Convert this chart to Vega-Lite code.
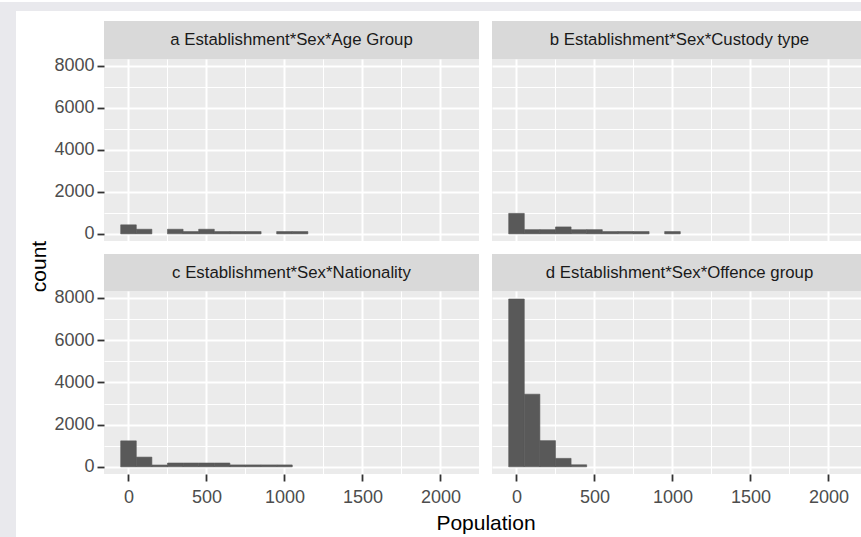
{
  "$schema": "https://vega.github.io/schema/vega-lite/v6.json",
  "background": "white",
  "padding": 0,
  "config": {
    "view": {"stroke": null},
    "font": "Liberation Sans",
    "rect": {"fill": "#595959", "stroke": "#595959", "strokeWidth": 0.6},
    "axis": {
      "labelFont": "Liberation Sans",
      "labelFontSize": 18,
      "labelColor": "#4d4d4d",
      "tickColor": "#333333",
      "tickSize": 7,
      "tickWidth": 1.8,
      "gridColor": "#ffffff",
      "gridOpacity": 1,
      "domain": false,
      "titleFont": "Liberation Sans",
      "titleFontSize": 21,
      "titleFontWeight": "normal",
      "titleColor": "#000000",
      "labelFlush": false,
      "labelOverlap": false
    }
  },
  "datasets": {
    "hist": [
      {"panel": "a", "bin_start": -50, "bin_end": 50, "count": 430},
      {"panel": "a", "bin_start": 50, "bin_end": 150, "count": 220},
      {"panel": "a", "bin_start": 250, "bin_end": 350, "count": 220},
      {"panel": "a", "bin_start": 350, "bin_end": 450, "count": 110},
      {"panel": "a", "bin_start": 450, "bin_end": 550, "count": 220},
      {"panel": "a", "bin_start": 550, "bin_end": 650, "count": 110},
      {"panel": "a", "bin_start": 650, "bin_end": 750, "count": 110},
      {"panel": "a", "bin_start": 750, "bin_end": 850, "count": 110},
      {"panel": "a", "bin_start": 950, "bin_end": 1050, "count": 110},
      {"panel": "a", "bin_start": 1050, "bin_end": 1150, "count": 110},
      {"panel": "b", "bin_start": -50, "bin_end": 50, "count": 975},
      {"panel": "b", "bin_start": 50, "bin_end": 150, "count": 200},
      {"panel": "b", "bin_start": 150, "bin_end": 250, "count": 200},
      {"panel": "b", "bin_start": 250, "bin_end": 350, "count": 330},
      {"panel": "b", "bin_start": 350, "bin_end": 450, "count": 200},
      {"panel": "b", "bin_start": 450, "bin_end": 550, "count": 200},
      {"panel": "b", "bin_start": 550, "bin_end": 650, "count": 110},
      {"panel": "b", "bin_start": 650, "bin_end": 750, "count": 110},
      {"panel": "b", "bin_start": 750, "bin_end": 850, "count": 110},
      {"panel": "b", "bin_start": 950, "bin_end": 1050, "count": 110},
      {"panel": "c", "bin_start": -50, "bin_end": 50, "count": 1230},
      {"panel": "c", "bin_start": 50, "bin_end": 150, "count": 460},
      {"panel": "c", "bin_start": 150, "bin_end": 250, "count": 85},
      {"panel": "c", "bin_start": 250, "bin_end": 350, "count": 180},
      {"panel": "c", "bin_start": 350, "bin_end": 450, "count": 180},
      {"panel": "c", "bin_start": 450, "bin_end": 550, "count": 180},
      {"panel": "c", "bin_start": 550, "bin_end": 650, "count": 180},
      {"panel": "c", "bin_start": 650, "bin_end": 750, "count": 90},
      {"panel": "c", "bin_start": 750, "bin_end": 850, "count": 90},
      {"panel": "c", "bin_start": 850, "bin_end": 950, "count": 90},
      {"panel": "c", "bin_start": 950, "bin_end": 1050, "count": 90},
      {"panel": "d", "bin_start": -50, "bin_end": 50, "count": 7950},
      {"panel": "d", "bin_start": 50, "bin_end": 150, "count": 3440},
      {"panel": "d", "bin_start": 150, "bin_end": 250, "count": 1240},
      {"panel": "d", "bin_start": 250, "bin_end": 350, "count": 400},
      {"panel": "d", "bin_start": 350, "bin_end": 450, "count": 95}
    ]
  },
  "columns": 5,
  "spacing": 0,
  "bounds": "flush",
  "align": "each",
  "concat": [
    {"width": 16, "height": 9, "data": {"values": [{}]}, "mark": "text", "encoding": {"text": {"value": ""}}, "view": {"fill": "#e9e9ed"}},
    {"width": 88, "height": 9, "data": {"values": [{}]}, "mark": "text", "encoding": {"text": {"value": ""}}, "view": {"fill": "#e9e9ed"}},
    {"width": 375, "height": 9, "data": {"values": [{}]}, "mark": "text", "encoding": {"text": {"value": ""}}, "view": {"fill": "#e9e9ed"}},
    {"width": 13, "height": 9, "data": {"values": [{}]}, "mark": "text", "encoding": {"text": {"value": ""}}, "view": {"fill": "#e9e9ed"}},
    {"width": 369, "height": 9, "data": {"values": [{}]}, "mark": "text", "encoding": {"text": {"value": ""}}, "view": {"fill": "#e9e9ed"}},

    {"width": 16, "height": 10, "data": {"values": [{}]}, "mark": "text", "encoding": {"text": {"value": ""}}, "view": {"fill": "#e9e9ed"}},
    {"width": 88, "height": 10, "data": {"values": [{}]}, "mark": "text", "encoding": {"text": {"value": ""}}},
    {"width": 375, "height": 10, "data": {"values": [{}]}, "mark": "text", "encoding": {"text": {"value": ""}}},
    {"width": 13, "height": 10, "data": {"values": [{}]}, "mark": "text", "encoding": {"text": {"value": ""}}},
    {"width": 369, "height": 10, "data": {"values": [{}]}, "mark": "text", "encoding": {"text": {"value": ""}}},

    {"width": 16, "height": 38, "data": {"values": [{}]}, "mark": "text", "encoding": {"text": {"value": ""}}, "view": {"fill": "#e9e9ed"}},
    {"width": 88, "height": 38, "data": {"values": [{}]}, "mark": "text", "encoding": {"text": {"value": ""}}},
    {"width": 375, "height": 38, "data": {"values": [{"label": "a Establishment*Sex*Age Group"}]}, "mark": {"type": "text", "font": "Liberation Sans", "fontSize": 16.8, "fill": "#1a1a1a", "baseline": "middle"}, "encoding": {"text": {"field": "label"}}, "view": {"fill": "#d9d9d9"}},
    {"width": 13, "height": 38, "data": {"values": [{}]}, "mark": "text", "encoding": {"text": {"value": ""}}},
    {"width": 369, "height": 38, "data": {"values": [{"label": "b Establishment*Sex*Custody type"}]}, "mark": {"type": "text", "font": "Liberation Sans", "fontSize": 16.8, "fill": "#1a1a1a", "baseline": "middle", "dx": 3}, "encoding": {"text": {"field": "label"}}, "view": {"fill": "#d9d9d9"}},

    {"width": 16, "height": 182, "data": {"values": [{}]}, "mark": "text", "encoding": {"text": {"value": ""}}, "view": {"fill": "#e9e9ed"}},
    {"width": 88, "height": 182, "data": {"values": [{}]}, "mark": "text", "encoding": {"text": {"value": ""}}},
    {
      "width": 375, "height": 182,
      "data": {"name": "hist"},
      "transform": [{"filter": "datum.panel === 'a'"}],
      "mark": {"type": "rect"},
      "encoding": {
        "x": {"field": "bin_start", "type": "quantitative", "scale": {"domain": [-157, 2247], "nice": false, "zero": false},
          "axis": {"values": [0, 250, 500, 750, 1000, 1250, 1500, 1750, 2000], "labels": false, "ticks": false, "title": null,
            "gridWidth": {"condition": {"test": "datum.value % 500 === 0", "value": 2}, "value": 1}}},
        "x2": {"field": "bin_end"},
        "y": {"field": "count", "type": "quantitative", "scale": {"domain": [-340, 8330], "nice": false, "zero": false},
          "axis": {"values": [0, 1000, 2000, 3000, 4000, 5000, 6000, 7000, 8000], "format": "d", "labelPadding": 3,
            "labelExpr": "datum.value % 2000 === 0 ? datum.label : ''",
            "tickOpacity": {"condition": {"test": "datum.value % 2000 === 0", "value": 1}, "value": 0},
            "gridWidth": {"condition": {"test": "datum.value % 2000 === 0", "value": 2}, "value": 1},
            "title": "count", "titleX": -65, "titleY": 207, "titleAngle": 270, "titleAlign": "center", "titleBaseline": "middle"}},
        "y2": {"datum": 0}
      },
      "view": {"fill": "#ebebeb"}
    },
    {"width": 13, "height": 182, "data": {"values": [{}]}, "mark": "text", "encoding": {"text": {"value": ""}}},
    {
      "width": 369, "height": 182,
      "data": {"name": "hist"},
      "transform": [{"filter": "datum.panel === 'b'"}],
      "mark": {"type": "rect"},
      "encoding": {
        "x": {"field": "bin_start", "type": "quantitative", "scale": {"domain": [-157, 2208.5], "nice": false, "zero": false},
          "axis": {"values": [0, 250, 500, 750, 1000, 1250, 1500, 1750, 2000], "labels": false, "ticks": false, "title": null,
            "gridWidth": {"condition": {"test": "datum.value % 500 === 0", "value": 2}, "value": 1}}},
        "x2": {"field": "bin_end"},
        "y": {"field": "count", "type": "quantitative", "scale": {"domain": [-340, 8330], "nice": false, "zero": false},
          "axis": {"values": [0, 1000, 2000, 3000, 4000, 5000, 6000, 7000, 8000], "labels": false, "ticks": false, "title": null,
            "gridWidth": {"condition": {"test": "datum.value % 2000 === 0", "value": 2}, "value": 1}}},
        "y2": {"datum": 0}
      },
      "view": {"fill": "#ebebeb"}
    },

    {"width": 16, "height": 13, "data": {"values": [{}]}, "mark": "text", "encoding": {"text": {"value": ""}}, "view": {"fill": "#e9e9ed"}},
    {"width": 88, "height": 13, "data": {"values": [{}]}, "mark": "text", "encoding": {"text": {"value": ""}}},
    {"width": 375, "height": 13, "data": {"values": [{}]}, "mark": "text", "encoding": {"text": {"value": ""}}},
    {"width": 13, "height": 13, "data": {"values": [{}]}, "mark": "text", "encoding": {"text": {"value": ""}}},
    {"width": 369, "height": 13, "data": {"values": [{}]}, "mark": "text", "encoding": {"text": {"value": ""}}},

    {"width": 16, "height": 37, "data": {"values": [{}]}, "mark": "text", "encoding": {"text": {"value": ""}}, "view": {"fill": "#e9e9ed"}},
    {"width": 88, "height": 37, "data": {"values": [{}]}, "mark": "text", "encoding": {"text": {"value": ""}}},
    {"width": 375, "height": 37, "data": {"values": [{"label": "c Establishment*Sex*Nationality"}]}, "mark": {"type": "text", "font": "Liberation Sans", "fontSize": 16.8, "fill": "#1a1a1a", "baseline": "middle"}, "encoding": {"text": {"field": "label"}}, "view": {"fill": "#d9d9d9"}},
    {"width": 13, "height": 37, "data": {"values": [{}]}, "mark": "text", "encoding": {"text": {"value": ""}}},
    {"width": 369, "height": 37, "data": {"values": [{"label": "d Establishment*Sex*Offence group"}]}, "mark": {"type": "text", "font": "Liberation Sans", "fontSize": 16.8, "fill": "#1a1a1a", "baseline": "middle", "dx": 3}, "encoding": {"text": {"field": "label"}}, "view": {"fill": "#d9d9d9"}},

    {"width": 16, "height": 183, "data": {"values": [{}]}, "mark": "text", "encoding": {"text": {"value": ""}}, "view": {"fill": "#e9e9ed"}},
    {"width": 88, "height": 183, "data": {"values": [{}]}, "mark": "text", "encoding": {"text": {"value": ""}}},
    {
      "width": 375, "height": 183,
      "data": {"name": "hist"},
      "transform": [{"filter": "datum.panel === 'c'"}],
      "mark": {"type": "rect"},
      "encoding": {
        "x": {"field": "bin_start", "type": "quantitative", "scale": {"domain": [-157, 2247], "nice": false, "zero": false},
          "axis": {"values": [0, 250, 500, 750, 1000, 1250, 1500, 1750, 2000], "format": "d", "labelPadding": 7,
            "labelExpr": "datum.value % 500 === 0 ? datum.label : ''",
            "tickOpacity": {"condition": {"test": "datum.value % 500 === 0", "value": 1}, "value": 0},
            "gridWidth": {"condition": {"test": "datum.value % 500 === 0", "value": 2}, "value": 1},
            "title": "Population", "titleX": 381.5, "titleY": 49, "titleAlign": "center", "titleBaseline": "middle"}},
        "x2": {"field": "bin_end"},
        "y": {"field": "count", "type": "quantitative", "scale": {"domain": [-340, 8330], "nice": false, "zero": false},
          "axis": {"values": [0, 1000, 2000, 3000, 4000, 5000, 6000, 7000, 8000], "format": "d", "labelPadding": 3,
            "labelExpr": "datum.value % 2000 === 0 ? datum.label : ''",
            "tickOpacity": {"condition": {"test": "datum.value % 2000 === 0", "value": 1}, "value": 0},
            "gridWidth": {"condition": {"test": "datum.value % 2000 === 0", "value": 2}, "value": 1},
            "title": null}},
        "y2": {"datum": 0}
      },
      "view": {"fill": "#ebebeb"}
    },
    {"width": 13, "height": 183, "data": {"values": [{}]}, "mark": "text", "encoding": {"text": {"value": ""}}},
    {
      "width": 369, "height": 183,
      "data": {"name": "hist"},
      "transform": [{"filter": "datum.panel === 'd'"}],
      "mark": {"type": "rect"},
      "encoding": {
        "x": {"field": "bin_start", "type": "quantitative", "scale": {"domain": [-157, 2208.5], "nice": false, "zero": false},
          "axis": {"values": [0, 250, 500, 750, 1000, 1250, 1500, 1750, 2000], "format": "d", "labelPadding": 7,
            "labelExpr": "datum.value % 500 === 0 ? datum.label : ''",
            "tickOpacity": {"condition": {"test": "datum.value % 500 === 0", "value": 1}, "value": 0},
            "gridWidth": {"condition": {"test": "datum.value % 500 === 0", "value": 2}, "value": 1},
            "title": null}},
        "x2": {"field": "bin_end"},
        "y": {"field": "count", "type": "quantitative", "scale": {"domain": [-340, 8330], "nice": false, "zero": false},
          "axis": {"values": [0, 1000, 2000, 3000, 4000, 5000, 6000, 7000, 8000], "labels": false, "ticks": false, "title": null,
            "gridWidth": {"condition": {"test": "datum.value % 2000 === 0", "value": 2}, "value": 1}}},
        "y2": {"datum": 0}
      },
      "view": {"fill": "#ebebeb"}
    },

    {"width": 16, "height": 65, "data": {"values": [{}]}, "mark": "text", "encoding": {"text": {"value": ""}}, "view": {"fill": "#e9e9ed"}},
    {"width": 88, "height": 65, "data": {"values": [{}]}, "mark": "text", "encoding": {"text": {"value": ""}}},
    {"width": 375, "height": 65, "data": {"values": [{}]}, "mark": "text", "encoding": {"text": {"value": ""}}},
    {"width": 13, "height": 65, "data": {"values": [{}]}, "mark": "text", "encoding": {"text": {"value": ""}}},
    {"width": 369, "height": 65, "data": {"values": [{}]}, "mark": "text", "encoding": {"text": {"value": ""}}}
  ]
}
